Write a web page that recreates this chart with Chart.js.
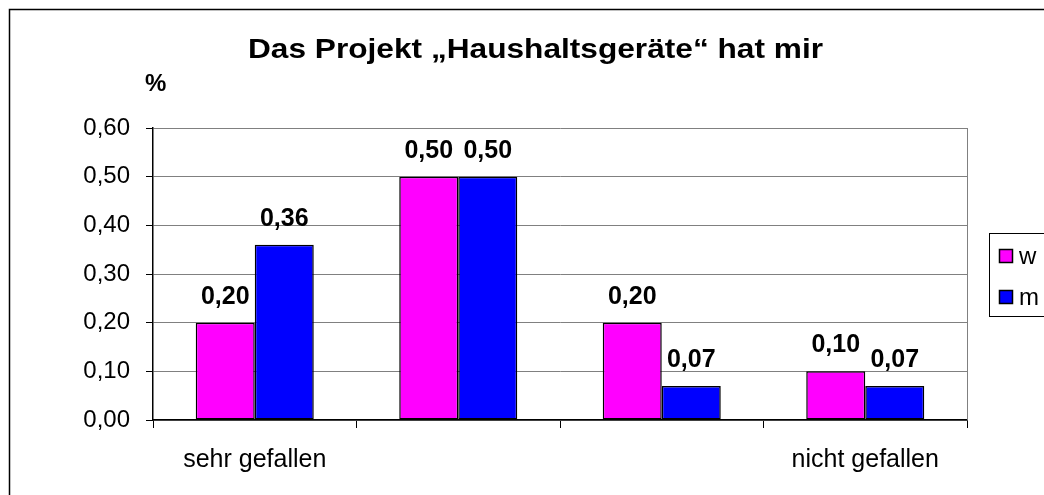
<!DOCTYPE html>
<html>
<head>
<meta charset="utf-8">
<script src="https://cdn.jsdelivr.net/npm/chart.js@4"></script>
<style>
  body { margin: 0; background: #fff; }
</style>
</head>
<body>
<canvas id="grafico" width="1044" height="495"></canvas>
<script>
const kategorien = ['sehr gefallen', '', '', 'nicht gefallen'];
const werteW = [0.20, 0.50, 0.20, 0.10];
const werteM = [0.36, 0.50, 0.07, 0.07];
const yTicks = ['0,00', '0,10', '0,20', '0,30', '0,40', '0,50', '0,60'];

const FONT = '"Liberation Sans", Arial, sans-serif';

// Rahmen, Titel, Werte über den Balken und Legende
const extras = {
  id: 'extras',
  afterDraw(chart) {
    const c = chart.ctx;
    const a = chart.chartArea;
    c.save();

    // äußerer Rahmen
    c.strokeStyle = '#000';
    c.lineWidth = 1.5;
    c.beginPath();
    c.moveTo(9.5, 495);
    c.lineTo(9.5, 9.5);
    c.lineTo(1044, 9.5);
    c.stroke();

    // rechter Rand der Zeichenfläche
    c.strokeStyle = '#808080';
    c.lineWidth = 1;
    c.beginPath();
    c.moveTo(a.right + 0.5, a.top);
    c.lineTo(a.right + 0.5, a.bottom);
    c.stroke();

    // Titel (im Original leicht in die Breite gezogen)
    c.fillStyle = '#000';
    c.textBaseline = 'alphabetic';
    c.textAlign = 'left';
    c.save();
    c.translate(248, 58);
    c.scale(1.13, 1);
    c.font = 'bold 28px ' + FONT;
    c.fillText('Das Projekt \u201eHaushaltsgeräte\u201c hat mir', 0, 0);
    c.restore();

    c.font = 'bold 24px ' + FONT;
    c.fillText('%', 145, 91);

    // Werte über den Balken
    c.textAlign = 'center';
    c.font = 'bold 25px ' + FONT;
    chart.data.datasets.forEach((ds, i) => {
      chart.getDatasetMeta(i).data.forEach((bar, j) => {
        c.fillText(ds.data[j].toFixed(2).replace('.', ','), bar.x, bar.y - 19);
      });
    });

    // Legende
    c.strokeStyle = '#000';
    c.lineWidth = 1;
    c.strokeRect(989.5, 233.5, 100, 83);
    c.textAlign = 'left';
    c.textBaseline = 'middle';
    c.font = '24px ' + FONT;
    chart.data.datasets.forEach((ds, i) => {
      const y = 249 + i * 41;
      c.fillStyle = ds.backgroundColor;
      c.fillRect(999.5, y + 0.5, 13, 13);
      c.lineWidth = 1.5;
      c.strokeRect(999.5, y + 0.5, 13, 13);
      c.fillStyle = '#000';
      c.fillText(ds.label, 1019, y + 8);
    });

    c.restore();
  }
};

new Chart(document.getElementById('grafico'), {
  type: 'bar',
  data: {
    labels: kategorien,
    datasets: [
      {
        label: 'w',
        data: werteW,
        backgroundColor: '#FF00FF',
        borderColor: '#000',
        borderWidth: 1.5,
        borderSkipped: false
      },
      {
        label: 'm',
        data: werteM,
        backgroundColor: '#0000FF',
        borderColor: '#000',
        borderWidth: 1.5,
        borderSkipped: false
      }
    ]
  },
  options: {
    responsive: false,
    animation: false,
    events: [],
    layout: { padding: { top: 128, right: 77, bottom: 0, left: 0 } },
    datasets: { bar: { categoryPercentage: 0.58, barPercentage: 1 } },
    plugins: {
      legend: { display: false },
      title: { display: false },
      tooltip: { enabled: false }
    },
    scales: {
      x: {
        afterFit(scale) { scale.height = 75; },
        grid: {
          offset: true,
          drawOnChartArea: false,
          tickLength: 8,
          tickColor: '#000'
        },
        border: { color: '#000', width: 1.5 },
        ticks: {
          color: '#000',
          padding: 17,
          maxRotation: 0,
          autoSkip: false,
          font: { family: FONT, size: 25 }
        }
      },
      y: {
        min: 0,
        max: 0.6,
        afterFit(scale) { scale.width = 153; },
        grid: {
          color: '#808080',
          tickLength: 7,
          tickColor: '#000'
        },
        border: { color: '#000', width: 1.5 },
        ticks: {
          stepSize: 0.1,
          color: '#000',
          padding: 16,
          font: { family: FONT, size: 24 },
          callback: (v, i) => yTicks[i]
        }
      }
    }
  },
  plugins: [extras]
});
</script>
</body>
</html>
